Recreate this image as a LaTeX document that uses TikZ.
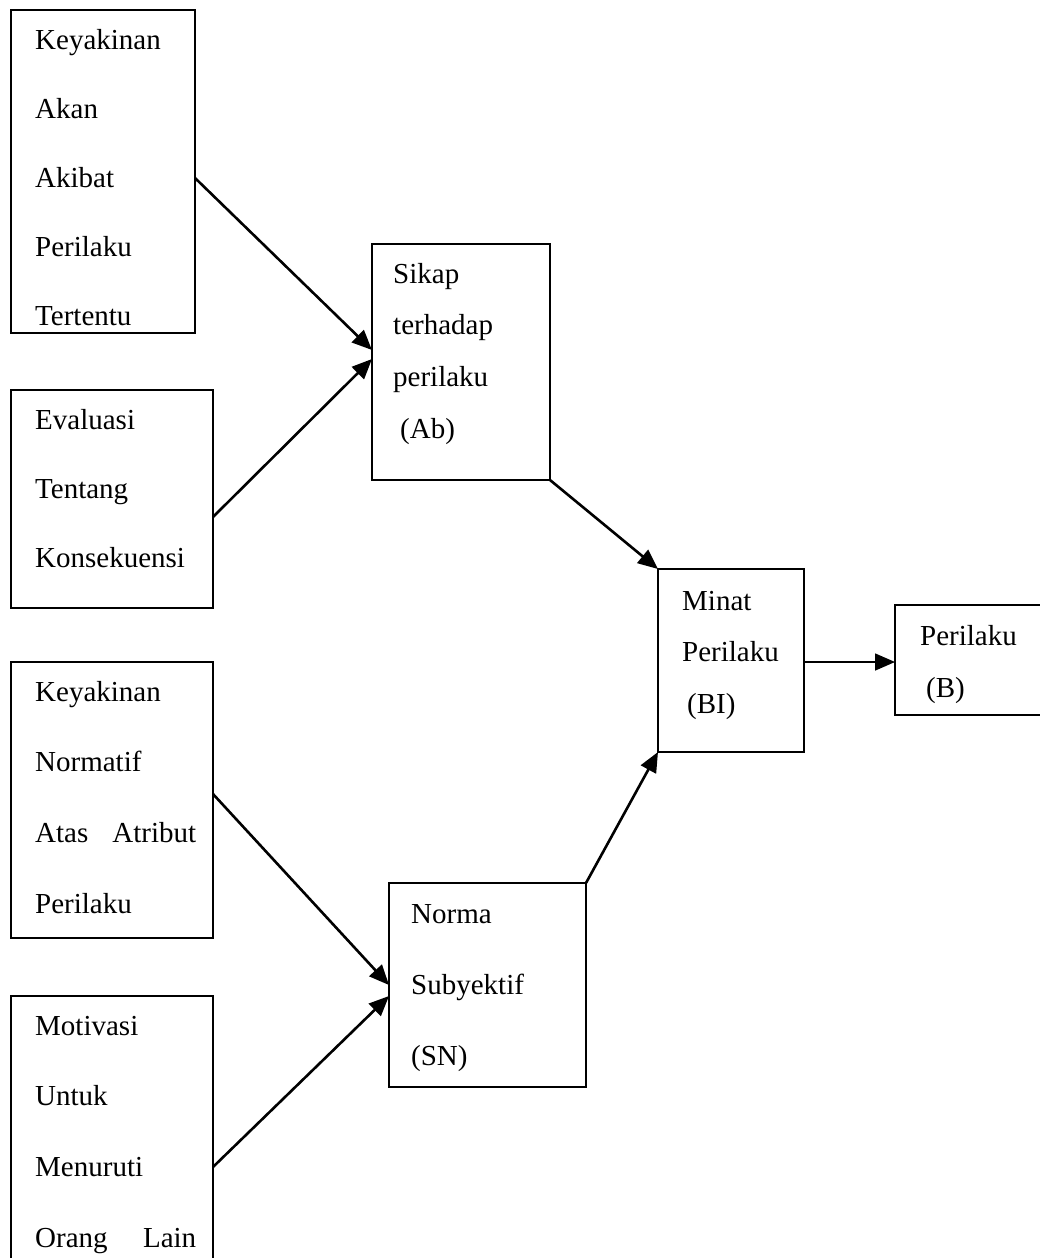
\documentclass[tikz,border=0pt]{standalone}
\usepackage{fontspec}
\setmainfont{Liberation Serif}
\usetikzlibrary{arrows.meta}
\begin{document}
\begin{tikzpicture}[x=1pt,y=-1pt,
 box/.style={draw,line width=2.2pt,anchor=north west,inner sep=0pt,outer sep=0pt},
 txt/.style={anchor=base west,inner sep=0pt,font=\fontsize{29}{34}\selectfont},
 arr/.style={line width=2.6pt,-{Triangle[length=20pt,width=17pt]}}]
\useasboundingbox (0,0) rectangle (1039,1258);
\fill[white] (0,0) rectangle (1039,1258);
% boxes
\node[box,minimum width=184pt,minimum height=323pt] (b1) at (11,10) {};
\node[box,minimum width=202pt,minimum height=218pt] (b2) at (11,390) {};
\node[box,minimum width=202pt,minimum height=276pt] (b3) at (11,662) {};
\node[box,minimum width=202pt,minimum height=290pt] (b4) at (11,996) {};
\node[box,minimum width=178pt,minimum height=236pt] (sikap) at (372,244) {};
\node[box,minimum width=197pt,minimum height=204pt] (norma) at (389,883) {};
\node[box,minimum width=146pt,minimum height=183pt] (minat) at (658,569) {};
\node[box,minimum width=170pt,minimum height=110pt] (B) at (895,605) {};
% texts
\foreach \t [count=\i from 0] in {Keyakinan,Akan,Akibat,Perilaku,Tertentu}
  \node[txt] (b1t\i) at (35,49+69*\i) {\t};
\foreach \t [count=\i from 0] in {Evaluasi,Tentang,Konsekuensi}
  \node[txt] (b2t\i) at (35,429+69*\i) {\t};
\foreach \t [count=\i from 0] in {Keyakinan,Normatif,{\hbox to 161pt{Atas\hfill Atribut}},Perilaku}
  \node[txt] (b3t\i) at (35,701+70.7*\i) {\t};
\foreach \t [count=\i from 0] in {Motivasi,Untuk,Menuruti,{\hbox to 161pt{Orang\hfill Lain}}}
  \node[txt] (b4t\i) at (35,1035+70.7*\i) {\t};
\foreach \t [count=\i from 0] in {Sikap,terhadap,perilaku}
  \node[txt] (st\i) at (393,283+51.7*\i) {\t};
\node[txt] (st3) at (400,438) {(Ab)};
\foreach \t [count=\i from 0] in {Norma,Subyektif,(SN)}
  \node[txt] (nt\i) at (411,923+71*\i) {\t};
\node[txt] (mt0) at (682,610) {Minat};
\node[txt] (mt1) at (682,661.5) {Perilaku};
\node[txt] (mt2) at (687,713) {(BI)};
\node[txt] (bt0) at (920,645) {Perilaku};
\node[txt] (bt1) at (926,697) {(B)};
% connectors
\draw[arr] ([yshift=-6.5pt]b1.east) -- ([yshift=12pt]sikap.west);
\draw[arr] ([yshift=-18pt]b2.east) -- ([yshift=3pt]sikap.west);
\draw[arr] (sikap.south east) -- (minat.north west);
\draw[arr] (norma.north east) -- (minat.south west);
\draw[arr,line width=1.6pt] ([yshift=-1.5pt]minat.east) -- ([yshift=-1.5pt]minat.east -| B.west);
\draw[arr] ([yshift=6pt]b3.east) -- (norma.west);
\draw[arr] ([yshift=-26pt]b4.east) -- ([yshift=-11pt]norma.west);
\end{tikzpicture}
\end{document}
